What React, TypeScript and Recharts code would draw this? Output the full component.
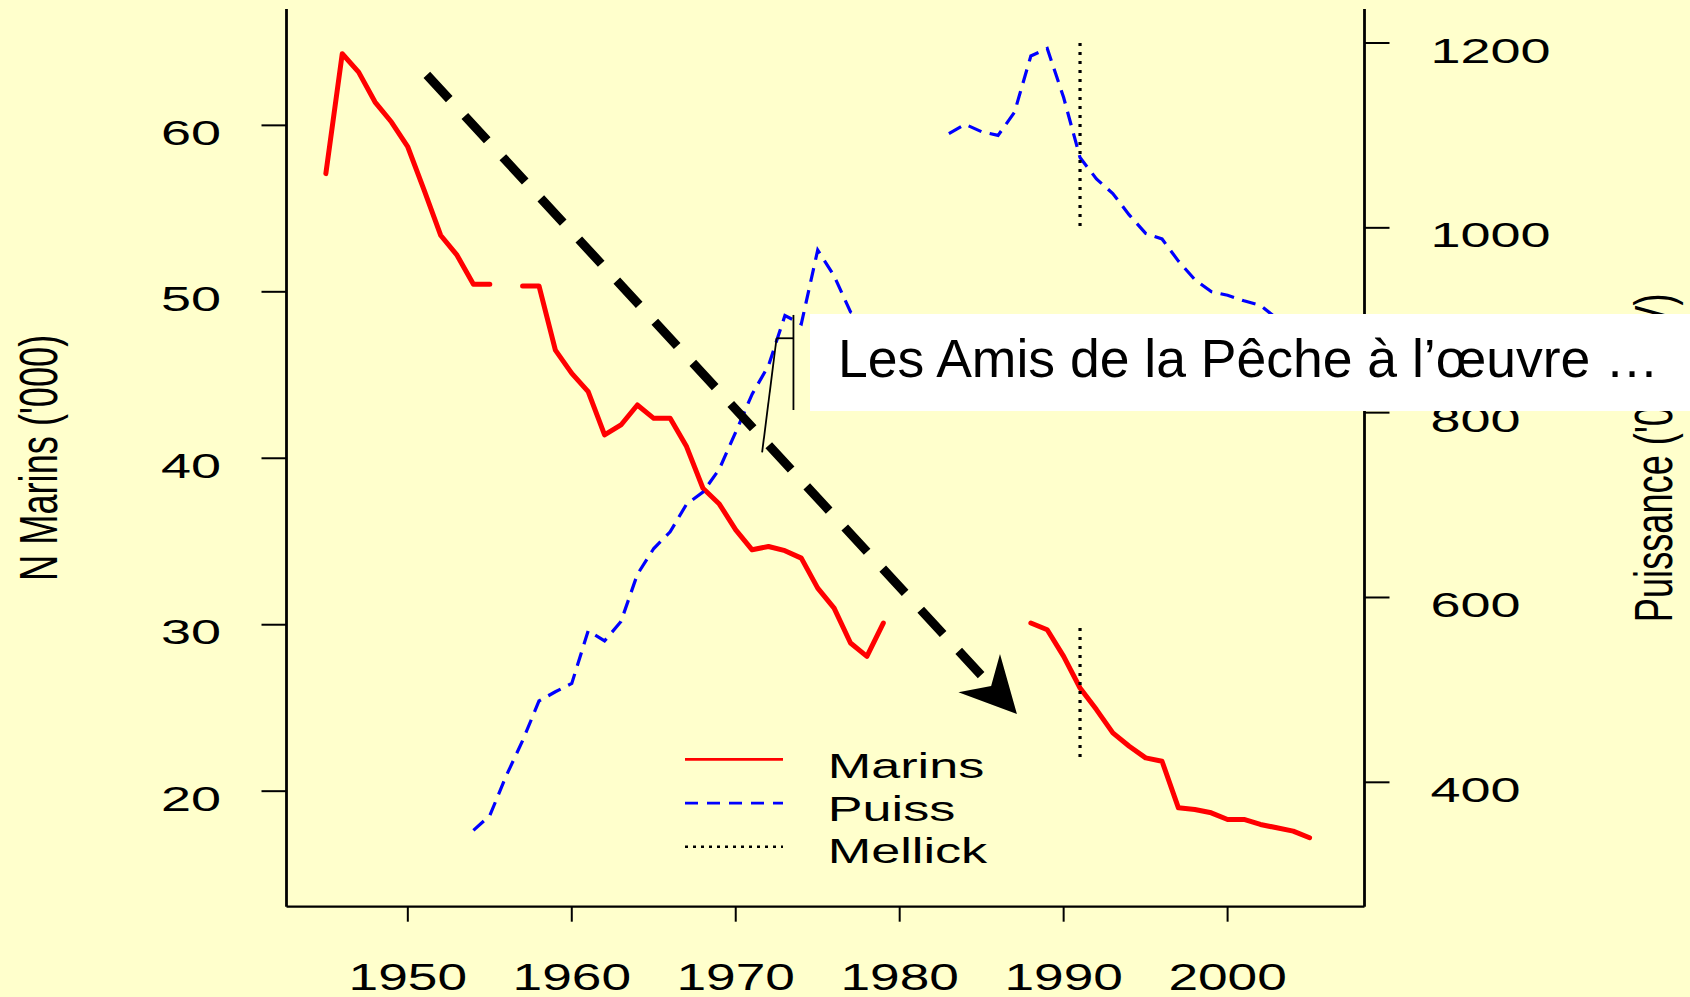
import React from 'react';
import { LineChart, Line, XAxis, YAxis, ReferenceLine, Legend } from 'recharts';

const FONT = '"Liberation Sans", Arial, Helvetica, sans-serif';

// years of the two series
const years = [
  1945, 1946, 1947, 1948, 1949, 1950, 1951, 1952, 1953, 1954,
  1955, 1956, 1957, 1958, 1959, 1960, 1961, 1962, 1963, 1964,
  1965, 1966, 1967, 1968, 1969, 1970, 1971, 1972, 1973, 1974,
  1975, 1976, 1977, 1978, 1979, 1980, 1981, 1982, 1983, 1984,
  1985, 1986, 1987, 1988, 1989, 1990, 1991, 1992, 1993, 1994,
  1995, 1996, 1997, 1998, 1999, 2000, 2001, 2002, 2003, 2004, 2005,
];

// N Marins ('000), left axis
const marins = [
  57.1, 64.3, 63.2, 61.4, 60.2, 58.7, 56.1, 53.4, 52.2, 50.45,
  50.45, null, 50.35, 50.35, 46.5, 45.1, 44.0, 41.4, 42.0, 43.2,
  42.4, 42.4, 40.7, 38.2, 37.25, 35.7, 34.5, 34.7, 34.45, 34.0,
  32.2, 31.0, 28.9, 28.1, 30.1, null, null, null, null, null,
  null, null, null, 30.1, 29.7, 28.1, 26.2, 24.9, 23.5, 22.7,
  22.0, 21.8, 19.0, 18.9, 18.7, 18.3, 18.3, 18.0, 17.8, 17.6, 17.2,
];

// Puissance ('000 CV), right axis
const puiss = [
  null, null, null, null, null, null, null, null, null, 348,
  364, 407, 445, 488, 498, 507, 564, 553, 574, 625,
  653, 671, 701, 714, 739, 779, 820, 851, 905, 896,
  976, 948, 909, 900, null, null, null, null, 1102, 1112,
  1104, 1100, 1125, 1186, 1194, 1141, 1076, 1053, 1037, 1014,
  994, 988, 964, 944, 931, 927, 921, 916, 902, 893, 885,
];

const xTicks = [1950, 1960, 1970, 1980, 1990, 2000];
const leftTicks = [20, 30, 40, 50, 60];
const rightTicks = [400, 600, 800, 1000, 1200];
const legendOrder = ['Marins', 'Puiss', 'Mellick'];

// Mellick marker
const mellickYear = 1991;
const mellickPuiss = [1200, 1000];
const mellickMarins = [29.8, 22];

// annotation arrow + callout strokes (data coordinates)
const arrowFrom = { x: 1951.16, y: 63.03 };
const arrowTo = { x: 1987.15, y: 24.64 };
const calloutSlant = [{ x: 1971.61, y: 40.36 }, { x: 1972.49, y: 47.21 }];
const calloutFlat = [{ x: 1972.49, y: 47.21 }, { x: 1973.52, y: 47.21 }];
const calloutUp = [{ x: 1973.52, y: 48.61 }, { x: 1973.52, y: 42.9 }];

const data = years.map((year, i) => ({ year, marins: marins[i], puiss: puiss[i] }));
const mellickTop = mellickPuiss.map((v) => ({ year: mellickYear, mellick: v }));
const mellickLow = mellickMarins.map((v) => ({ year: mellickYear, mellick: v }));

const XTick = (props: any) => {
  const { x, y, payload } = props;
  return (
    <g transform={`translate(${x},${y + 68.5})`}>
      <text transform="scale(1.42,1)" textAnchor="middle" fontSize={37.5} fontFamily={FONT} fill="#000">
        {payload.value}
      </text>
    </g>
  );
};

const LeftTick = (props: any) => {
  const { x, y, payload } = props;
  return (
    <g transform={`translate(${x - 40.5},${y + 19.5})`}>
      <text transform="scale(1.5,1)" textAnchor="end" fontSize={36} fontFamily={FONT} fill="#000">
        {payload.value}
      </text>
    </g>
  );
};

const RightTick = (props: any) => {
  const { x, y, payload } = props;
  return (
    <g transform={`translate(${x + 41},${y + 19.5})`}>
      <text transform="scale(1.5,1)" textAnchor="start" fontSize={36} fontFamily={FONT} fill="#000">
        {payload.value}
      </text>
    </g>
  );
};

const axisTitle = (text: string, bx: number) => () => (
  <g transform={`translate(${bx},457.8) scale(1.5,1) rotate(-90)`}>
    <text textAnchor="middle" fontSize={36.2} fontFamily={FONT} fill="#000">
      {text}
    </text>
  </g>
);

const ArrowShape = (p: any) => {
  const { x1, y1, x2, y2 } = p;
  const len = Math.hypot(x2 - x1, y2 - y1);
  const ux = (x2 - x1) / len;
  const uy = (y2 - y1) / len;
  const nx = x2 - ux * 38;
  const ny = y2 - uy * 38;
  const bx = x2 - ux * 55.6;
  const by = y2 - uy * 55.6;
  const w = 28.3;
  return (
    <g>
      <line x1={x1} y1={y1} x2={nx} y2={ny} stroke="#000" strokeWidth={9} strokeDasharray="33 23" />
      <polygon
        points={`${x2},${y2} ${bx - uy * w},${by + ux * w} ${nx},${ny} ${bx + uy * w},${by - ux * w}`}
        fill="#000"
      />
    </g>
  );
};

const legendStyle: Record<string, { stroke: string; dash?: string; width: number }> = {
  Marins: { stroke: '#FF0000', width: 2.7 },
  Puiss: { stroke: '#0000FF', dash: '13 9', width: 2.7 },
  Mellick: { stroke: '#000000', dash: '3 5', width: 2.5 },
};

const renderLegend = (props: any) => {
  const names = new Set((props.payload || []).map((e: any) => e.value));
  const items = legendOrder.filter((n) => names.has(n));
  return (
    <svg width={300} height={140} style={{ overflow: 'visible' }}>
      {items.map((name: string, i: number) => {
        const s = legendStyle[name];
        const ly = 24.4 + i * 43.7;
        return (
          <g key={name}>
            <line x1={5} y1={ly} x2={103} y2={ly} stroke={s.stroke} strokeWidth={s.width} strokeDasharray={s.dash} />
            <g transform={`translate(147.7,${43.3 + i * 42.5})`}>
              <text transform="scale(1.45,1)" fontSize={36} fontFamily={FONT} fill="#000">
                {name}
              </text>
            </g>
          </g>
        );
      })}
    </svg>
  );
};

export default function App() {
  return (
    <div
      style={{
        position: 'absolute',
        left: 0,
        top: 0,
        width: 1690,
        height: 997,
        background: '#FFFFCC',
        overflow: 'hidden',
      }}
    >
      <LineChart width={1690} height={997} data={data} margin={{ top: 9, right: 0, bottom: 0, left: 0 }}>
        <XAxis
          dataKey="year"
          type="number"
          domain={[1942.6, 2008.35]}
          allowDataOverflow
          ticks={xTicks}
          interval={0}
          height={90.3}
          tickSize={15}
          tickMargin={0}
          tick={XTick}
          tickLine={{ stroke: '#000', strokeWidth: 2 }}
          axisLine={{ stroke: '#000', strokeWidth: 2.2 }}
        />
        <XAxis
          xAxisId="top"
          orientation="top"
          type="number"
          domain={[1942.6, 2008.35]}
          allowDataOverflow
          height={0}
          tick={false}
          tickLine={false}
          axisLine={{ stroke: '#000', strokeWidth: 2.2 }}
        />
        <YAxis
          yAxisId="left"
          type="number"
          domain={[13.06, 66.99]}
          allowDataOverflow
          ticks={leftTicks}
          interval={0}
          width={286.5}
          tickSize={25}
          tickMargin={0}
          tick={LeftTick}
          tickLine={{ stroke: '#000', strokeWidth: 2 }}
          axisLine={{ stroke: '#000', strokeWidth: 2.8 }}
          label={axisTitle("N Marins ('000)", 57.3)}
        />
        <YAxis
          yAxisId="right"
          orientation="right"
          type="number"
          domain={[265.4, 1236.8]}
          allowDataOverflow
          ticks={rightTicks}
          interval={0}
          width={325.5}
          tickSize={25}
          tickMargin={0}
          tick={RightTick}
          tickLine={{ stroke: '#000', strokeWidth: 2 }}
          axisLine={{ stroke: '#000', strokeWidth: 2.8 }}
          label={axisTitle("Puissance ('000 CV)", 1671.7)}
        />
        <Line
          yAxisId="left"
          dataKey="marins"
          name="Marins"
          type="linear"
          stroke="#FF0000"
          strokeWidth={5}
          strokeLinecap="round"
          strokeLinejoin="round"
          dot={false}
          activeDot={false}
          isAnimationActive={false}
        />
        <Line
          yAxisId="right"
          dataKey="puiss"
          name="Puiss"
          type="linear"
          stroke="#0000FF"
          strokeWidth={3.2}
          strokeDasharray="14 8.5"
          dot={false}
          activeDot={false}
          isAnimationActive={false}
        />
        <Line
          yAxisId="right"
          data={mellickTop}
          dataKey="mellick"
          name="Mellick"
          type="linear"
          stroke="#000"
          strokeWidth={3.2}
          strokeDasharray="3 6"
          dot={false}
          activeDot={false}
          isAnimationActive={false}
        />
        <Line
          yAxisId="left"
          data={mellickLow}
          dataKey="mellick"
          name="Mellick"
          legendType="none"
          type="linear"
          stroke="#000"
          strokeWidth={3.2}
          strokeDasharray="3 6"
          dot={false}
          activeDot={false}
          isAnimationActive={false}
        />
        <ReferenceLine yAxisId="left" segment={[arrowFrom, arrowTo]} ifOverflow="visible" shape={ArrowShape} />
        <ReferenceLine yAxisId="left" segment={calloutSlant} ifOverflow="visible" stroke="#000" strokeWidth={1.8} />
        <ReferenceLine yAxisId="left" segment={calloutFlat} ifOverflow="visible" stroke="#000" strokeWidth={1.8} />
        <ReferenceLine yAxisId="left" segment={calloutUp} ifOverflow="visible" stroke="#000" strokeWidth={1.8} />
        <Legend
          layout="horizontal"
          verticalAlign="middle"
          align="center"
          content={renderLegend}
          wrapperStyle={{ position: 'absolute', left: 680, top: 735, width: 300, height: 140 }}
        />
      </LineChart>
      <svg width={1690} height={997} style={{ position: 'absolute', left: 0, top: 0, pointerEvents: 'none' }}>
        <rect x={810} y={314} width={880} height={97} fill="#FFFFFF" />
        <text x={838} y={377} fontSize={53.5} fontFamily={FONT} fill="#000">
          Les Amis de la Pêche à l’œuvre …
        </text>
      </svg>
    </div>
  );
}
